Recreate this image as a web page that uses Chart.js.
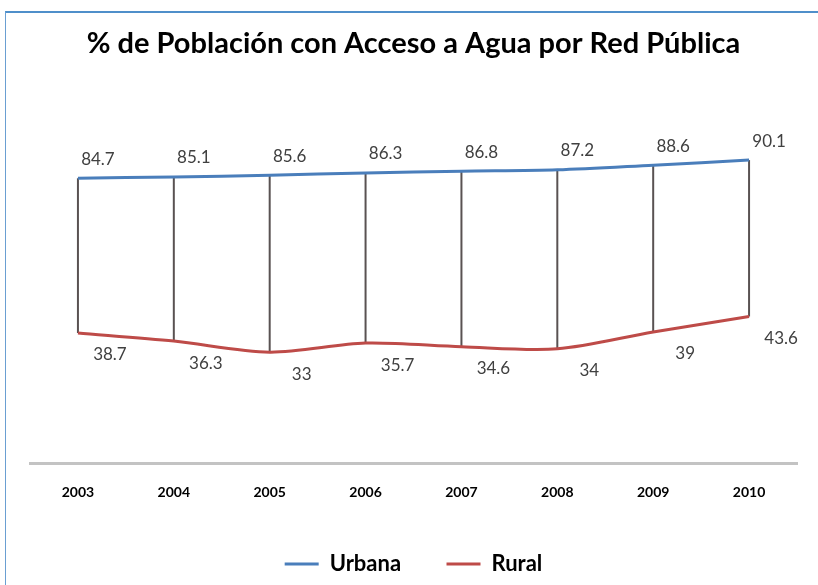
<!DOCTYPE html>
<html>
<head>
<meta charset="utf-8">
<script src="https://cdn.jsdelivr.net/npm/chart.js@4"></script>
<style>
  body { margin: 0; background: #fff; }
  #wrap { position: relative; width: 818px; height: 585px; overflow: hidden; }
  #frame {
    position: absolute; left: 5px; top: 11px; width: 900px; height: 700px;
    border-top: 2px solid #4f8fca; border-left: 1px solid #6a9fd2;
  }
  canvas { position: absolute; left: 0; top: 0; }
</style>
</head>
<body>
<div id="wrap">
  <div id="frame"></div>
  <canvas id="myChart" width="818" height="585"></canvas>
</div>
<script>
// data
const years = ["2003", "2004", "2005", "2006", "2007", "2008", "2009", "2010"];
const urbana = [84.7, 85.1, 85.6, 86.3, 86.8, 87.2, 88.6, 90.1];
const rural = [38.7, 36.3, 33, 35.7, 34.6, 34, 39, 43.6];

const fontFam = "Lato, 'Open Sans', sans-serif";

// high-low lines between the two series
const hiLoPlugin = {
  id: "hiLo",
  beforeDatasetsDraw(chart) {
    const a = chart.getDatasetMeta(0).data;
    const b = chart.getDatasetMeta(1).data;
    const c = chart.ctx;
    c.save();
    c.strokeStyle = "#595252";
    c.lineWidth = 2;
    for (let i = 0; i < a.length; i++) {
      c.beginPath();
      c.moveTo(a[i].x, a[i].y);
      c.lineTo(b[i].x, b[i].y);
      c.stroke();
    }
    c.restore();
  },
};

// value labels
const labelPlugin = {
  id: "valLabels",
  afterDatasetsDraw(chart) {
    const c = chart.ctx;
    c.save();
    c.font = "17px " + fontFam;
    c.fillStyle = "#404040";
    c.textAlign = "center";
    c.textBaseline = "middle";
    chart.getDatasetMeta(0).data.forEach((p, i) => {
      c.fillText(urbana[i], p.x + 20, p.y - 19);
    });
    chart.getDatasetMeta(1).data.forEach((p, i) => {
      c.fillText(rural[i], p.x + 32, p.y + 22);
    });
    c.restore();
  },
};

const ctx = document.getElementById("myChart");

new Chart(ctx, {
  type: "line",
  data: {
    labels: years,
    datasets: [
      {
        label: "Urbana",
        data: urbana,
        borderColor: "#4a7ebb",
        backgroundColor: "#4a7ebb",
        borderWidth: 3,
        pointRadius: 0,
        tension: 0.3,
      },
      {
        label: "Rural",
        data: rural,
        borderColor: "#be4b48",
        backgroundColor: "#be4b48",
        borderWidth: 3,
        pointRadius: 0,
        tension: 0.3,
      },
    ],
  },
  options: {
    responsive: false,
    animation: false,
    layout: { padding: { left: 30, right: 21, top: 0, bottom: 0 } },
    plugins: {
      title: {
        display: true,
        text: "% de Población con Acceso a Agua por Red Pública",
        color: "#000",
        font: { family: fontFam, size: 29, weight: "bold" },
        padding: { top: 26, bottom: 66 },
      },
      legend: {
        position: "bottom",
        labels: {
          usePointStyle: true,
          pointStyle: "line",
          pointStyleWidth: 34,
          boxHeight: 3,
          padding: 8,
          color: "#000",
          font: { family: fontFam, size: 22, weight: "bold" },
          generateLabels(chart) {
            const items = Chart.defaults.plugins.legend.labels.generateLabels(chart);
            // widen the gap between the two entries
            items[0].text = items[0].text + "       ";
            return items;
          },
        },
      },
      tooltip: { enabled: false },
    },
    scales: {
      x: {
        offset: true,
        grid: { display: false, drawTicks: false },
        border: { display: true, color: "#c3c3c3", width: 3 },
        ticks: {
          padding: 21,
          color: "#000",
          font: { family: fontFam, size: 14, weight: "bold" },
        },
        afterFit(scale) {
          scale.height += 23;
        },
      },
      y: {
        display: false,
        min: 0,
        max: 100,
      },
    },
  },
  plugins: [hiLoPlugin, labelPlugin],
});
</script>
</body>
</html>
